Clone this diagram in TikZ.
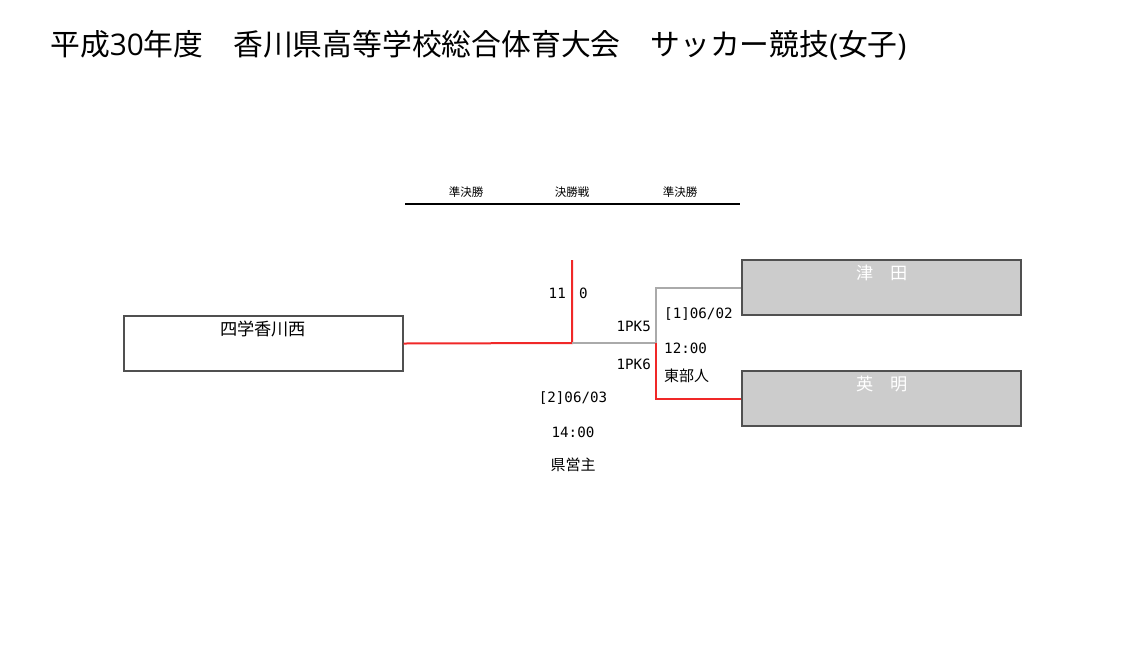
\documentclass[tikz,border=0pt]{standalone}
\usepackage{fontspec}
\setmainfont{Noto Sans CJK JP}
\newfontfamily\latinfont{Open Sans}
\newfontfamily\halffont{DejaVu Sans Mono}
\usepackage{tikz}

\definecolor{winred}{RGB}{240,40,40}
\definecolor{losegray}{RGB}{170,170,170}
\definecolor{boxgray}{RGB}{204,204,204}
\definecolor{framegray}{RGB}{80,80,80}

\begin{document}
\begin{tikzpicture}[
    x=1pt, y=-1pt,
    team/.style={
        rectangle,
        draw=framegray,
        line width=1.2pt,
        minimum width=279pt,
        minimum height=55pt,
        inner sep=0pt
    },
    seeded/.style={
        team,
        fill=boxgray
    },
    teamname/.style={
        font=\fontsize{17.2}{20}\selectfont,
        inner sep=0pt
    },
    info/.style={
        font=\fontsize{15}{18}\selectfont,
        inner sep=0pt
    },
    num/.style={
        font=\fontsize{14.2}{18}\halffont,
        inner sep=0pt
    },
    round/.style={
        font=\fontsize{11.5}{13}\selectfont,
        inner sep=0pt
    },
    win/.style={
        line width=2pt,
        color=winred
    },
    lose/.style={
        line width=2pt,
        color=losegray
    }
]

\useasboundingbox (0,0) rectangle (1145,665);

% Title
\node[anchor=base west, inner sep=0pt, font=\fontsize{29.8}{34}\selectfont] (title) at (50,55)
    {平成{\latinfont 30}年度　香川県高等学校総合体育大会　サッカー競技{\latinfont (}女子{\latinfont )}};

% Round headers
\node[round] (semileft) at (466,192) {準決勝};
\node[round] (final) at (572,192) {決勝戦};
\node[round] (semiright) at (680,192) {準決勝};
\coordinate (ruleL) at (405,204);
\coordinate (ruleR) at (740,204);
\draw[line width=1.2pt] (ruleL) -- (ruleR);

% Teams
\node[team] (shikoku) at (263.5,343.5) {};
\node[teamname] (shikokuname) at (263,329) {四学香川西};

\node[seeded] (tsuda) at (881.5,287.5) {};
\node[teamname, text=white] (tsudaname) at (882,273) {津　田};

\node[seeded] (eimei) at (881.5,398.5) {};
\node[teamname, text=white] (eimeiname) at (882,384) {英　明};

% Junctions
\coordinate (finalpt) at (572,343);
\coordinate (champ) at (572,260);
\coordinate (semipt) at (656,343);

% Lines
\draw[win] (shikoku.east) -- (finalpt) -- (champ);
\draw[lose] (finalpt) -- (semipt);
\draw[lose] (semipt) |- (tsuda.west);
\draw[win] (semipt) |- (eimei.west);

% Final scores
\node[num, anchor=east] (scoreL) at (566,293) {11};
\node[num, anchor=west] (scoreR) at (579,293) {0};
\node[num] (final1) at (573,398) {[2]06/03};
\node[num] (final2) at (573,432) {14:00};
\node[info] (final3) at (573,465) {県営主};

% Semifinal scores
\node[num, anchor=east] (pkup) at (651,326) {1PK5};
\node[num, anchor=east] (pkdown) at (651,364) {1PK6};
\node[num, anchor=west] (semi1) at (664,314) {[1]06/02};
\node[num, anchor=west] (semi2) at (664,348) {12:00};
\node[info, anchor=west] (semi3) at (664,376) {東部人};

\end{tikzpicture}
\end{document}
